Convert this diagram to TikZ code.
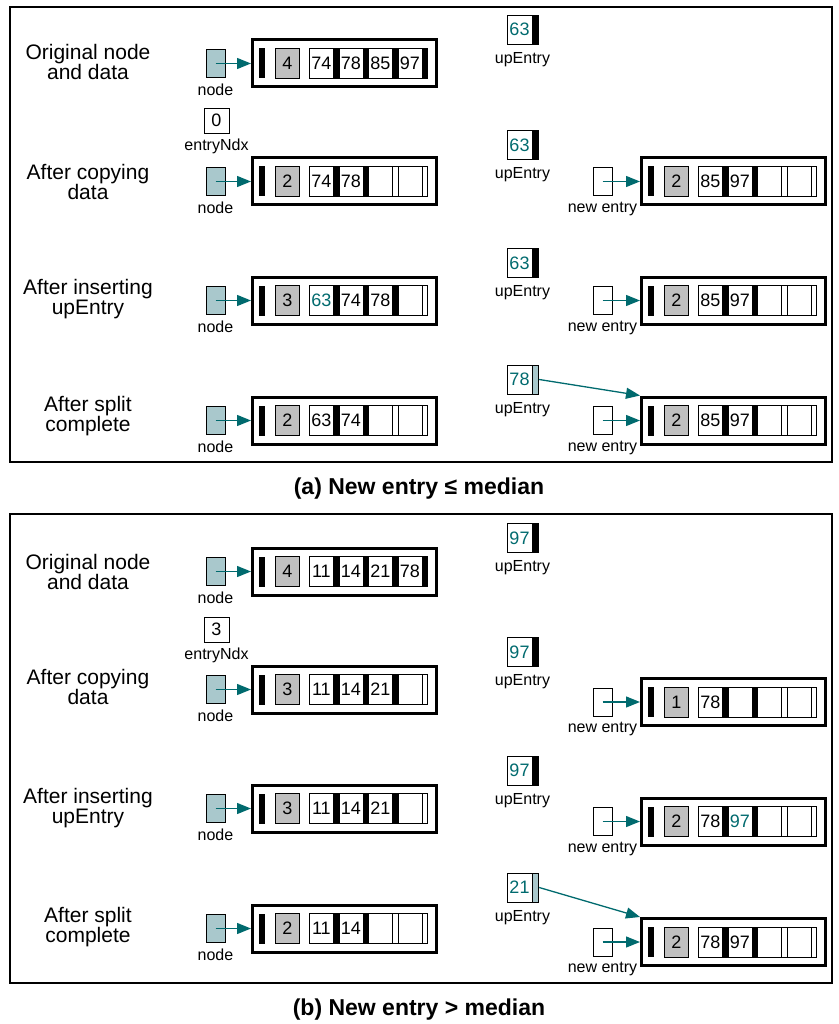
\documentclass[tikz,border=0pt]{standalone}
\usepackage{fontspec}
\setmainfont{Liberation Sans}
\usepackage{xcolor}
\usetikzlibrary{arrows.meta, positioning, calc}

\definecolor{linkteal}{HTML}{006A6E}
\definecolor{ptrfill}{HTML}{A9C8CC}
\definecolor{cntgray}{HTML}{C0C0C0}

\newcommand{\up}[1]{\textcolor{linkteal}{#1}}

% tree node: name, left x, centre y, count, entries value/pointer colour
\newcommand{\treenode}[5]{%
  \node[nodebox, anchor=west] (#1) at (#2,#3) {};
  \node[headptr, anchor=west] (#1-h) at (#2+8,#3) {};
  \node[countcell, anchor=west] (#1-c) at (#2+24,#3) {#4};
  \foreach \val/\ptr [count=\i from 0] in {#5} {
    \node[datacell, anchor=west] (#1-d\i) at (#2+58+29.5*\i,#3) {\val};
    \node[ptrcell=\ptr, anchor=west] (#1-p\i) at (#2+82+29.5*\i,#3) {};
  }
}
% pointer box with its label: name, style, x, y, label
\newcommand{\ptrbox}[5]{%
  \node[#2] (#1) at (#3,#4) {};
  \node[lbl, below=6pt of #1] (#1-l) {#5};
}
% upEntry: name, centre y, value, bar colour
\newcommand{\upentry}[4]{%
  \node[upnum] (#1) at (519.5,#2) {\up{#3}};
  \node[upbar, fill=#4, right=0pt of #1] (#1-b) {};
  \node[lbl, below=7.5pt of #1, xshift=3pt] (#1-l) {upEntry};
}

\begin{document}
\begin{tikzpicture}[x=1pt, y=-1pt,
    every node/.style={inner sep=0pt},
    frame/.style={draw, line width=2.4pt},
    caption/.style={font=\fontsize{23}{26}\selectfont\bfseries},
    steptext/.style={align=center, font=\fontsize{21}{20}\selectfont},
    lbl/.style={font=\fontsize{16}{18}\selectfont},
    nodebox/.style={draw, line width=3pt, minimum width=184pt, minimum height=47pt},
    headptr/.style={fill=black, minimum width=6pt, minimum height=30pt},
    countcell/.style={draw, line width=.8pt, fill=cntgray, minimum width=24pt,
                      minimum height=30pt, font=\fontsize{18}{20}\selectfont},
    datacell/.style={draw, line width=.8pt, fill=white, minimum width=24pt,
                     minimum height=30pt, font=\fontsize{18}{20}\selectfont},
    ptrcell/.style={draw, line width=.8pt, fill=#1, minimum width=5.5pt, minimum height=30pt},
    nodeptr/.style={draw, line width=.8pt, fill=ptrfill, minimum width=19pt, minimum height=28pt},
    newptr/.style={draw, line width=.8pt, fill=white, minimum width=19pt, minimum height=28pt},
    upnum/.style={draw, line width=.8pt, minimum width=25pt, minimum height=29pt,
                  font=\fontsize{18}{20}\selectfont},
    upbar/.style={draw, line width=.8pt, minimum width=6pt, minimum height=29pt},
    ndxbox/.style={draw, line width=.8pt, minimum size=25pt, font=\fontsize{18}{20}\selectfont},
    link/.style={draw=linkteal, line width=1.3pt,
                 -{Triangle[length=14pt, width=11pt, fill=linkteal]}}]
  \useasboundingbox (0,0) rectangle (838,1024);

  % (a) new entry <= median
  \draw[frame] (10,7) rectangle (832,462);
  \node[caption] (capa) at (419,489) {(a) New entry ≤ median};

  \node[steptext] (a1t) at (88,61.5) {Original node\\and data};
  \ptrbox{a1p}{nodeptr}{215.5}{63.5}{node}
  \treenode{a1n}{251}{63.5}{4}{74/black, 78/black, 85/black, 97/black}
  \draw[link] (a1p.center) -- (a1n.west);
  \upentry{a1u}{29.5}{63}{black}

  \node[ndxbox] (a2x) at (216.5,120.5) {0};
  \node[lbl, below=5pt of a2x] (a2xl) {entryNdx};

  \node[steptext] (a2t) at (88,181.5) {After copying\\data};
  \ptrbox{a2p}{nodeptr}{215.5}{181.5}{node}
  \treenode{a2n}{251}{181.5}{2}{74/black, 78/black, /white, /white}
  \draw[link] (a2p.center) -- (a2n.west);
  \upentry{a2u}{145}{63}{black}
  \ptrbox{a2q}{newptr}{602.5}{181.5}{new entry}
  \treenode{a2r}{640}{181.5}{2}{85/black, 97/black, /white, /white}
  \draw[link] (a2q.center) -- (a2r.west);

  \node[steptext] (a3t) at (88,299) {After inserting\\upEntry};
  \ptrbox{a3p}{nodeptr}{215.5}{300.5}{node}
  \treenode{a3n}{251}{300.5}{3}{\up{63}/black, 74/black, 78/black, /white}
  \draw[link] (a3p.center) -- (a3n.west);
  \upentry{a3u}{263}{63}{black}
  \ptrbox{a3q}{newptr}{602.5}{300.5}{new entry}
  \treenode{a3r}{640}{300.5}{2}{85/black, 97/black, /white, /white}
  \draw[link] (a3q.center) -- (a3r.west);

  \node[steptext] (a4t) at (88,416) {After split\\complete};
  \ptrbox{a4p}{nodeptr}{215.5}{420.5}{node}
  \treenode{a4n}{251}{420.5}{2}{63/black, 74/black, /white, /white}
  \draw[link] (a4p.center) -- (a4n.west);
  \upentry{a4u}{379.5}{78}{ptrfill}
  \ptrbox{a4q}{newptr}{602.5}{420.5}{new entry}
  \treenode{a4r}{640}{420.5}{2}{85/black, 97/black, /white, /white}
  \draw[link] (a4q.center) -- (a4r.west);
  \draw[link] (a4u-b.east) -- (a4r.north west);

  % (b) new entry > median
  \draw[frame] (10,514) rectangle (832,983);
  \node[caption] (capb) at (419,1010) {(b) New entry > median};

  \node[steptext] (b1t) at (88,571.5) {Original node\\and data};
  \ptrbox{b1p}{nodeptr}{215.5}{571.5}{node}
  \treenode{b1n}{251}{571.5}{4}{11/black, 14/black, 21/black, 78/black}
  \draw[link] (b1p.center) -- (b1n.west);
  \upentry{b1u}{538}{97}{black}

  \node[ndxbox] (b2x) at (216.5,629.5) {3};
  \node[lbl, below=5pt of b2x] (b2xl) {entryNdx};

  \node[steptext] (b2t) at (88,687) {After copying\\data};
  \ptrbox{b2p}{nodeptr}{215.5}{689.5}{node}
  \treenode{b2n}{251}{689.5}{3}{11/black, 14/black, 21/black, /white}
  \draw[link] (b2p.center) -- (b2n.west);
  \upentry{b2u}{652}{97}{black}
  \ptrbox{b2q}{newptr}{602.5}{702}{new entry}
  \treenode{b2r}{640}{702}{1}{78/black, /black, /white, /white}
  \draw[link] (b2q.center) -- (b2r.west);

  \node[steptext] (b3t) at (88,808) {After inserting\\upEntry};
  \ptrbox{b3p}{nodeptr}{215.5}{808.5}{node}
  \treenode{b3n}{251}{808.5}{3}{11/black, 14/black, 21/black, /white}
  \draw[link] (b3p.center) -- (b3n.west);
  \upentry{b3u}{770.5}{97}{black}
  \ptrbox{b3q}{newptr}{602.5}{821.5}{new entry}
  \treenode{b3r}{640}{821.5}{2}{78/black, \up{97}/black, /white, /white}
  \draw[link] (b3q.center) -- (b3r.west);

  \node[steptext] (b4t) at (88,927) {After split\\complete};
  \ptrbox{b4p}{nodeptr}{215.5}{928.5}{node}
  \treenode{b4n}{251}{928.5}{2}{11/black, 14/black, /white, /white}
  \draw[link] (b4p.center) -- (b4n.west);
  \upentry{b4u}{887.5}{21}{ptrfill}
  \ptrbox{b4q}{newptr}{602.5}{942}{new entry}
  \treenode{b4r}{640}{942}{2}{78/black, 97/black, /white, /white}
  \draw[link] (b4q.center) -- (b4r.west);
  \draw[link] (b4u-b.east) -- (b4r.north west);
\end{tikzpicture}
\end{document}
